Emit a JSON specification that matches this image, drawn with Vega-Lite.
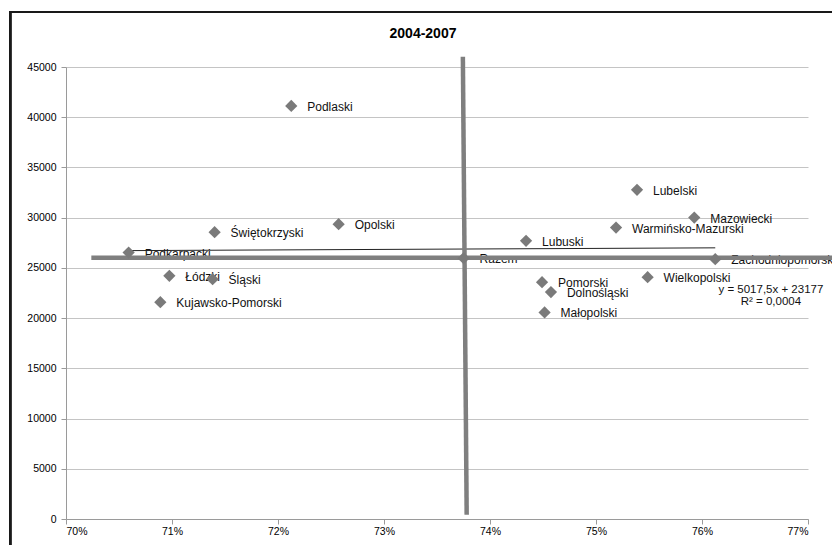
{
  "$schema": "https://vega.github.io/schema/vega-lite/v6.json",
  "width": 742,
  "height": 452,
  "autosize": {"type": "none"},
  "padding": {"left": 66, "top": 67, "right": 24, "bottom": 26},
  "background": "white",
  "title": {
    "text": "2004-2007",
    "font": "Liberation Sans, Arial",
    "fontSize": 14,
    "fontWeight": "bold",
    "color": "#000000",
    "anchor": "middle",
    "baseline": "alphabetic",
    "dx": -14,
    "offset": -41
  },
  "config": {
    "view": {"stroke": null},
    "axis": {
      "labelFont": "Liberation Sans, Arial",
      "labelFontSize": 10.5,
      "labelColor": "#000000",
      "domainColor": "#9a9a9a",
      "tickColor": "#9a9a9a",
      "gridColor": "#c4c4c4",
      "tickSize": 5,
      "title": null
    }
  },
  "datasets": {
    "regions": [
      {"region": "Podlaski", "share": 0.72125, "value": 41120},
      {"region": "Świętokrzyski", "share": 0.71402, "value": 28560},
      {"region": "Opolski", "share": 0.72572, "value": 29350},
      {"region": "Podkarpacki", "share": 0.70591, "value": 26530},
      {"region": "Łódzki", "share": 0.70975, "value": 24210},
      {"region": "Śląski", "share": 0.71383, "value": 23880},
      {"region": "Kujawsko-Pomorski", "share": 0.7089, "value": 21590},
      {"region": "Razem", "share": 0.73751, "value": 25970},
      {"region": "Lubuski", "share": 0.7434, "value": 27690},
      {"region": "Pomorski", "share": 0.74491, "value": 23580},
      {"region": "Dolnośląski", "share": 0.74575, "value": 22590},
      {"region": "Małopolski", "share": 0.74515, "value": 20560},
      {"region": "Zachodniopomorski", "share": 0.76125, "value": 25870},
      {"region": "Lubelski", "share": 0.75387, "value": 32770},
      {"region": "Mazowiecki", "share": 0.75927, "value": 30010},
      {"region": "Warmińsko-Mazurski", "share": 0.75189, "value": 29020},
      {"region": "Wielkopolski", "share": 0.75487, "value": 24080}
    ],
    "trend": [
      {"share": 0.70575, "value": 26718},
      {"share": 0.76125, "value": 26996}
    ],
    "quadrants": [
      {"line": "vertical", "share": 0.73744, "value": 46030},
      {"line": "vertical", "share": 0.7378, "value": 430},
      {"line": "horizontal", "share": 0.70239, "value": 26000},
      {"line": "horizontal", "share": 0.785, "value": 26000}
    ]
  },
  "layer": [
    {
      "data": {"name": "regions"},
      "mark": {"type": "point", "opacity": 0},
      "encoding": {
        "x": {
          "field": "share",
          "type": "quantitative",
          "scale": {"domain": [0.7, 0.77], "nice": false, "zero": false},
          "axis": {
            "values": [0.7, 0.71, 0.72, 0.73, 0.74, 0.75, 0.76, 0.77],
            "format": ".0%",
            "grid": false,
            "labelPadding": 2
          }
        },
        "y": {
          "field": "value",
          "type": "quantitative",
          "scale": {"domain": [0, 45000], "nice": false, "zero": true},
          "axis": {
            "values": [0, 5000, 10000, 15000, 20000, 25000, 30000, 35000, 40000, 45000],
            "format": "d",
            "grid": true,
            "labelPadding": 5
          }
        }
      }
    },
    {
      "data": {"name": "regions"},
      "mark": {"type": "rect", "fill": "transparent", "stroke": "#1a1a1a", "strokeWidth": 1.5, "clip": false},
      "encoding": {
        "x": {"datum": 0.69475, "type": "quantitative"},
        "x2": {"datum": 0.8},
        "y": {"datum": 50480, "type": "quantitative"},
        "y2": {"datum": -6000}
      }
    },
    {
      "data": {"name": "regions"},
      "mark": {
        "type": "text",
        "align": "left",
        "baseline": "middle",
        "dx": 16,
        "dy": 1,
        "font": "Liberation Sans, Arial",
        "fontSize": 12,
        "color": "#111111",
        "clip": false
      },
      "encoding": {
        "x": {"field": "share", "type": "quantitative"},
        "y": {"field": "value", "type": "quantitative"},
        "text": {"field": "region"}
      }
    },
    {
      "data": {"name": "trend"},
      "mark": {"type": "line", "color": "#222222", "strokeWidth": 1},
      "encoding": {
        "x": {"field": "share", "type": "quantitative"},
        "y": {"field": "value", "type": "quantitative"}
      }
    },
    {
      "data": {"name": "quadrants"},
      "mark": {"type": "line", "color": "#7f7f7f", "strokeWidth": 4.5, "strokeCap": "butt", "clip": false},
      "encoding": {
        "x": {"field": "share", "type": "quantitative"},
        "y": {"field": "value", "type": "quantitative"},
        "detail": {"field": "line"}
      }
    },
    {
      "data": {"name": "regions"},
      "mark": {"type": "point", "shape": "diamond", "filled": true, "color": "#7a7a7a", "size": 150, "opacity": 1},
      "encoding": {
        "x": {"field": "share", "type": "quantitative"},
        "y": {"field": "value", "type": "quantitative"}
      }
    },
    {
      "data": {"values": [{"label": "trend equation"}]},
      "mark": {
        "type": "text",
        "align": "center",
        "baseline": "top",
        "font": "Liberation Sans, Arial",
        "fontSize": 11.5,
        "lineHeight": 12,
        "color": "#111111",
        "clip": false,
        "text": ["y = 5017,5x + 23177", "R² = 0,0004"]
      },
      "encoding": {
        "x": {"datum": 0.7665, "type": "quantitative"},
        "y": {"datum": 23400, "type": "quantitative"}
      }
    }
  ]
}
